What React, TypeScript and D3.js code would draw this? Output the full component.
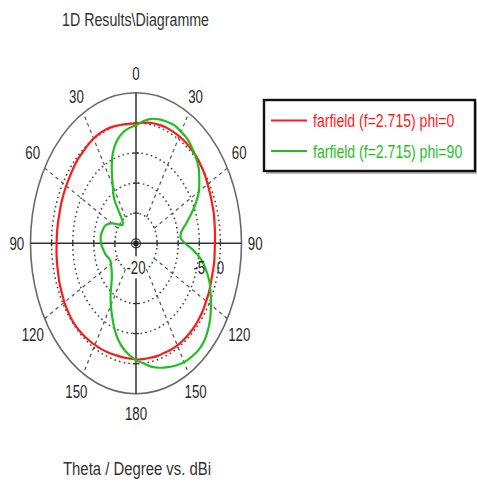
import React from 'react';
import * as d3 from 'd3';

// Theta (degrees, clockwise from top; 180..355 drawn on the phi+180 side)
const theta = [0, 5, 10, 15, 20, 25, 30, 35, 40, 45, 50, 55, 60, 65, 70, 75, 80, 85,
  90, 95, 100, 105, 110, 115, 120, 125, 130, 135, 140, 145, 150, 155, 160, 165, 170, 175,
  180, 185, 190, 195, 200, 205, 210, 215, 220, 225, 230, 235, 240, 245, 250, 255, 260, 265,
  270, 275, 280, 285, 290, 295, 300, 305, 310, 315, 320, 325, 330, 335, 340, 345, 350, 355];

// farfield phi=0 (dBi)
const phi0 = [-0.1, 0.1, 0.3, 0.4, 0.5, 0.5, 0.5, 0.5, 0.4, 0.3, 0.1, -0.1, -0.4, -0.6, -0.8, -0.9, -1.1, -1.2,
  -1.3, -1.3, -1.2, -1.2, -1.1, -0.9, -0.8, -0.6, -0.5, -0.4, -0.4, -0.4, -0.4, -0.5, -0.6, -0.6, -0.7, -0.7,
  -0.7, -0.8, -0.8, -0.8, -0.7, -0.6, -0.5, -0.4, -0.3, -0.2, -0.2, -0.3, -0.4, -0.6, -0.7, -0.9, -1.0, -1.1,
  -1.2, -1.2, -1.2, -1.2, -1.1, -1.0, -0.9, -0.8, -0.6, -0.4, -0.3, -0.1, 0.1, 0.2, 0.2, 0.1, 0.0, -0.1];

// farfield phi=90 (dBi)
const phi90 = [-0.4, 0.4, 1.0, 1.3, 1.5, 1.6, 1.4, 1.2, 0.7, 0.1, -0.6, -1.7, -2.8, -4.4, -6.2, -7.8, -9.1, -9.4,
  -8.4, -6.3, -4.3, -2.8, -1.5, -0.5, 0.5, 1.5, 2.3, 2.9, 3.1, 3.0, 2.8, 2.4, 1.9, 1.4, 0.8, 0.0,
  -0.6, -1.4, -2.3, -3.5, -5.0, -6.6, -8.1, -9.5, -10.9, -11.9, -12.5, -12.9, -13.1, -13.3, -13.0, -12.6, -12.3, -12.0,
  -11.7, -11.6, -11.6, -11.8, -12.0, -12.5, -13.4, -14.4, -15.3, -15.6, -14.8, -11.0, -9.0, -6.4, -4.0, -2.4, -1.4, -0.8];

const radialDomain = [-20, 5];
const ringValues = [-15, -10, -5, 0];
const radialLabelValues = [-20, -5, 0];
const radialLabelTexts = ['-20', '-5', '0'];
const spokeAngles = [30, 60, 120, 150, 210, 240, 300, 330];
const angleTicks = [0, 30, 60, 90, 120, 150, 180, 210, 240, 270, 300, 330];
const angleLabels = ['0', '30', '60', '90', '120', '150', '180', '150', '120', '90', '60', '30'];
const seriesNames = ['farfield (f=2.715) phi=0', 'farfield (f=2.715) phi=90'];
const seriesColors = ['#ff1a1a', '#1fbf1f'];
const titleText = '1D Results\\Diagramme';
const axisTitle = 'Theta / Degree vs. dBi';

const W = 477, H = 485;
const cx = 136, cy = 243.3, rx = 105.5, ry = 150.5;
const FONT = 'Liberation Sans, Arial, sans-serif';

export default function App() {
  const r = d3.scaleLinear().domain(radialDomain).range([0, 1]);
  const rad = (deg: number) => (deg * Math.PI) / 180;
  const px = (a: number, f: number) => cx + rx * f * Math.sin(rad(a));
  const py = (a: number, f: number) => cy - ry * f * Math.cos(rad(a));

  const line = d3
    .line<[number, number]>()
    .x((d) => px(d[0], r(d[1])))
    .y((d) => py(d[0], r(d[1])))
    .curve(d3.curveCatmullRomClosed.alpha(0.5));

  const series = [phi0, phi90].map((vals) => theta.map((t, i) => [t, vals[i]] as [number, number]));

  const numText = (x: number, y: number, s: string, key: string, size = 19) => (
    <text
      key={key}
      transform={`translate(${x},${y}) scale(0.7,1)`}
      textAnchor="middle"
      dominantBaseline="central"
      fontFamily={FONT}
      fontSize={size}
      fill="#2a2a2a"
    >
      {s}
    </text>
  );

  return (
    <svg
      width={W}
      height={H}
      style={{ position: 'absolute', left: 0, top: 0, background: '#fff' }}
    >
      <rect x={0} y={0} width={W} height={H} fill="#fff" />
      <text x={62} y={26} fontFamily={FONT} fontSize={17.5} fill="#333" textLength={147} lengthAdjust="spacingAndGlyphs">
        {titleText}
      </text>

      {/* dotted rings */}
      {ringValues.map((v) => (
        <ellipse key={'ring' + v} cx={cx} cy={cy} rx={rx * r(v)} ry={ry * r(v)} fill="none" stroke="#444" strokeWidth={1.5} strokeDasharray="1.6,3.2" />
      ))}
      {/* spokes */}
      {spokeAngles.map((a) => (
        <line key={'sp' + a} x1={px(a, r(ringValues[0]))} y1={py(a, r(ringValues[0]))} x2={px(a, 1)} y2={py(a, 1)} stroke="#555" strokeWidth={1.2} strokeDasharray="3.5,3.5" />
      ))}
      {/* outer ellipse */}
      <ellipse cx={cx} cy={cy} rx={rx} ry={ry} fill="none" stroke="#6a6a6a" strokeWidth={1.6} />
      {/* axes */}
      <line x1={px(0, 1)} y1={py(0, 1)} x2={px(180, 1)} y2={py(180, 1)} stroke="#333" strokeWidth={1.5} />
      <line x1={px(270, 1)} y1={py(270, 1)} x2={px(90, 1)} y2={py(90, 1)} stroke="#333" strokeWidth={1.5} />
      {/* axis ticks at rings */}
      {ringValues.map((v) => (
        <g key={'tk' + v} stroke="#333" strokeWidth={1.2}>
          <line x1={cx - 3} x2={cx + 3} y1={py(0, r(v))} y2={py(0, r(v))} />
          <line x1={cx - 3} x2={cx + 3} y1={py(180, r(v))} y2={py(180, r(v))} />
          <line x1={px(90, r(v))} x2={px(90, r(v))} y1={cy - 3} y2={cy + 3} />
          <line x1={px(270, r(v))} x2={px(270, r(v))} y1={cy - 3} y2={cy + 3} />
        </g>
      ))}

      {/* curves */}
      {series.map((s, i) => (
        <path key={'s' + i} d={line(s) || ''} fill="none" stroke={seriesColors[i]} strokeWidth={2.2} strokeLinejoin="round" />
      ))}

      {/* center marker */}
      <circle cx={cx} cy={cy} r={4.5} fill="none" stroke="#333" strokeWidth={1.2} />
      <circle cx={cx} cy={cy} r={2.8} fill="#222" />

      {/* radial labels */}
      <rect x={cx - 10} y={cy + 13} width={20} height={22} fill="#fff" />
      {radialLabelValues.map((v, i) =>
        numText(px(90, r(v)), cy + 24, radialLabelTexts[i], 'rl' + i, 19)
      )}

      {/* angle labels */}
      {angleTicks.map((a, i) => {
        const s = Math.sin(rad(a));
        const c = Math.cos(rad(a));
        const nudge = Math.abs(Math.abs(c) - 0.5) < 0.01 ? 6 * Math.sign(c) : 0;
        return numText(cx + rx * 1.13 * s, cy - ry * 1.13 * c - nudge, angleLabels[i], 'al' + i, 19);
      })}

      {/* legend */}
      <rect x={266} y={102} width={211} height={72} fill="#bbb" />
      <rect x={264} y={100} width={211} height={71} fill="#fff" stroke="#111" strokeWidth={2.4} />
      {seriesNames.map((n, i) => (
        <g key={'lg' + i}>
          <line x1={271} x2={307} y1={120.5 + i * 30.5} y2={120.5 + i * 30.5} stroke={seriesColors[i]} strokeWidth={2.2} />
          <text transform={`translate(313,${127 + i * 31}) scale(0.74,1)`} fontFamily={FONT} fontSize={19} fill={seriesColors[i]}>
            {n}
          </text>
        </g>
      ))}

      <text x={63} y={475} fontFamily={FONT} fontSize={18} fill="#333" textLength={148} lengthAdjust="spacingAndGlyphs">
        {axisTitle}
      </text>
    </svg>
  );
}
